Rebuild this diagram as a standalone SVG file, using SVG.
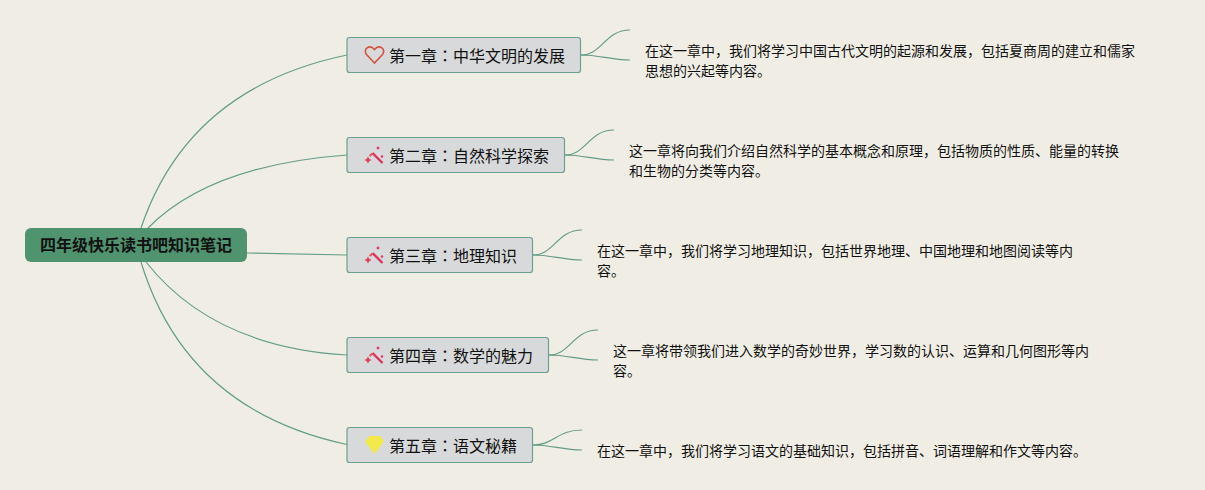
<svg xmlns="http://www.w3.org/2000/svg" width="1205" height="490" viewBox="0 0 1205 490">
<style>
text{font-family:"Noto Sans CJK SC","Noto Sans",sans-serif;fill:#111}
.t{font-size:16px}
.col{font-family:"Noto Sans CJK TC","Noto Sans",sans-serif}
.d{font-size:14px;fill:#111}
.box{fill:#d8d9da;stroke:#6aa090;stroke-width:1.2}
.c{fill:none;stroke:#649c88;stroke-width:1.2}
</style>
<defs>
<g id="wand">
<path d="M-2 -3 L8 7" stroke="#e0315f" stroke-width="2.400" fill="none"/>
<path d="M-5 0 L-2 -2.500" stroke="#e8505a" stroke-width="2" fill="none"/>
<path d="M-6.500 0.500 l1.200 2.300 l2.300 1.200 l-2.300 1.200 l-1.200 2.300 l-1.200 -2.300 l-2.300 -1.200 l2.300 -1.200z" fill="#e0405a"/>
<path d="M3.500 -10 l0.700 1.300 l1.300 0.700 l-1.300 0.700 l-0.700 1.300 l-0.700 -1.300 l-1.300 -0.700 l1.300 -0.700z" fill="#e0315f"/>
<circle cx="7.500" cy="0.500" r="1.200" fill="#e0315f"/>
</g>
</defs>
<rect width="1205" height="490" fill="#f0eee4"/>
<g id="connectors">
<path class="c" d="M141 228 Q188 88 347 55"/>
<path class="c" d="M148 228 Q210 165 347 155"/>
<path class="c" d="M247 253 Q300 254 347 255"/>
<path class="c" d="M146 262 Q213 347 347 355"/>
<path class="c" d="M141 262 Q186 410 347 444.500"/>
<path class="c" d="M581 55 C602 55 605 30 630 30"/><path class="c" d="M581 55 C600 55 610 60 630 60"/>
<path class="c" d="M565 155 C586 155 589 130 614 130"/><path class="c" d="M565 155 C584 155 594 160 614 160"/>
<path class="c" d="M533 255 C554 255 557 230 582 230"/><path class="c" d="M533 255 C552 255 562 260 582 260"/>
<path class="c" d="M549 355 C570 355 573 330 598 330"/><path class="c" d="M549 355 C568 355 578 360 598 360"/>
<path class="c" d="M533 445 C554 445 557 430 582 430"/><path class="c" d="M533 445 C552 445 562 450 582 450"/>
</g>
<g id="root"><rect x="25" y="228" width="222" height="34" rx="6" fill="#50936f"/>
<text x="136" y="251" text-anchor="middle" style="font-size:16px;font-weight:700">四年级快乐读书吧知识笔记</text></g>
<g id="n1"><rect class="box" x="347" y="37.500" width="233.500" height="35" rx="2.500"/>
<path d="M374.500 63 L366.500 54.500 C362.500 49.500 369.500 43.500 374.500 49.500 C379.500 43.500 386.500 49.500 382.500 54.500 Z" fill="none" stroke="#d9503f" stroke-width="1.600"/>
<text class="t" x="389" y="62">第一章<tspan class="col">：</tspan>中华文明的发展</text></g>
<g id="d1"><text class="d" x="645" y="56">在这一章中，我们将学习中国古代文明的起源和发展，包括夏商周的建立和儒家</text><text class="d" x="645" y="76">思想的兴起等内容。</text></g>
<g id="n2"><rect class="box" x="347" y="137.500" width="217.500" height="35" rx="2.500"/>
<use href="#wand" x="374.500" y="156"/>
<text class="t" x="389" y="162">第二章<tspan class="col">：</tspan>自然科学探索</text></g>
<g id="d2"><text class="d" x="629" y="156">这一章将向我们介绍自然科学的基本概念和原理，包括物质的性质、能量的转换</text><text class="d" x="629" y="176">和生物的分类等内容。</text></g>
<g id="n3"><rect class="box" x="347" y="237.500" width="185.500" height="35" rx="2.500"/>
<use href="#wand" x="374.500" y="256"/>
<text class="t" x="389" y="262">第三章<tspan class="col">：</tspan>地理知识</text></g>
<g id="d3"><text class="d" x="597" y="256">在这一章中，我们将学习地理知识，包括世界地理、中国地理和地图阅读等内</text><text class="d" x="597" y="276">容。</text></g>
<g id="n4"><rect class="box" x="347" y="337.500" width="201.500" height="35" rx="2.500"/>
<use href="#wand" x="374.500" y="356"/>
<text class="t" x="389" y="362">第四章<tspan class="col">：</tspan>数学的魅力</text></g>
<g id="d4"><text class="d" x="613" y="356">这一章将带领我们进入数学的奇妙世界，学习数的认识、运算和几何图形等内</text><text class="d" x="613" y="376">容。</text></g>
<g id="n5"><rect class="box" x="347" y="427.500" width="185.500" height="35" rx="2.500"/>
<path d="M369 436 H380 L384 441.500 L374.500 454 L365 441.500 Z" fill="#f3e94a"/>
<text class="t" x="389" y="452">第五章<tspan class="col">：</tspan>语文秘籍</text></g>
<g id="d5"><text class="d" x="597" y="456">在这一章中，我们将学习语文的基础知识，包括拼音、词语理解和作文等内容。</text></g>
</svg>
